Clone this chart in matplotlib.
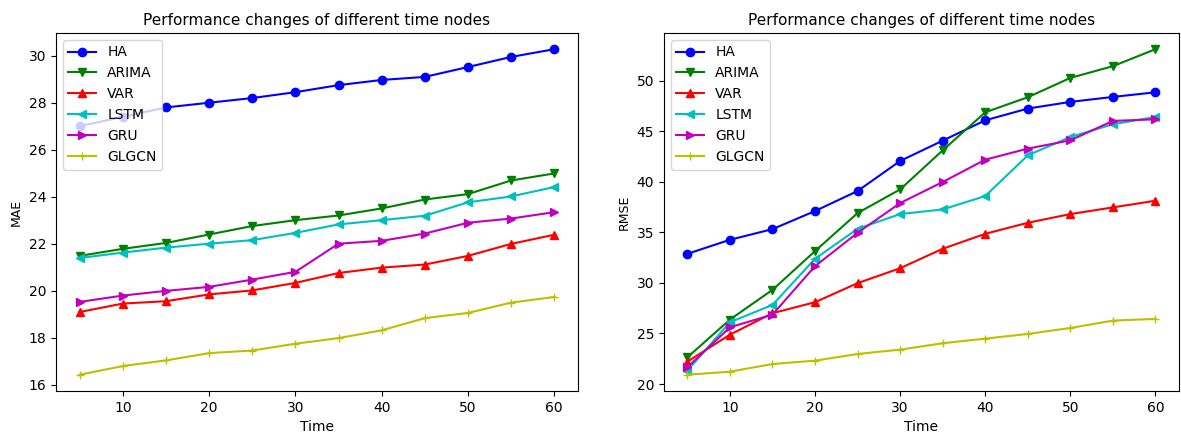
import matplotlib
matplotlib.use("Agg")
import matplotlib.pyplot as plt

time = [5, 10, 15, 20, 25, 30, 35, 40, 45, 50, 55, 60]
models = ["HA", "ARIMA", "VAR", "LSTM", "GRU", "GLGCN"]

mae_ha = [27.0, 27.4, 27.8, 28.0, 28.2, 28.45, 28.75, 28.97, 29.1, 29.52, 29.95, 30.28]
mae_arima = [21.48, 21.78, 22.03, 22.39, 22.75, 23.0, 23.2, 23.5, 23.88, 24.11, 24.69, 24.99]
mae_var = [19.09, 19.45, 19.55, 19.84, 20.01, 20.33, 20.75, 20.98, 21.11, 21.48, 21.99, 22.38]
mae_lstm = [21.39, 21.62, 21.83, 22.0, 22.15, 22.46, 22.82, 23.0, 23.19, 23.76, 24.01, 24.41]
mae_gru = [19.52, 19.79, 19.99, 20.16, 20.47, 20.8, 22.0, 22.12, 22.43, 22.89, 23.07, 23.34]
mae_glgcn = [16.42, 16.79, 17.03, 17.34, 17.45, 17.74, 17.98, 18.31, 18.83, 19.05, 19.49, 19.73]

rmse_ha = [32.87, 34.26, 35.31, 37.1, 39.08, 42.05, 44.06, 46.07, 47.23, 47.89, 48.38, 48.84]
rmse_arima = [22.64, 26.37, 29.31, 33.14, 36.9, 39.24, 43.1, 46.86, 48.35, 50.26, 51.42, 53.1]
rmse_var = [22.21, 24.88, 27.0, 28.09, 29.97, 31.45, 33.37, 34.85, 35.94, 36.8, 37.46, 38.12]
rmse_lstm = [21.32, 26.11, 27.82, 32.38, 35.35, 36.8, 37.26, 38.58, 42.61, 44.42, 45.68, 46.4]
rmse_gru = [21.65, 25.61, 26.86, 31.65, 34.95, 37.89, 39.97, 42.18, 43.27, 44.09, 46.01, 46.17]
rmse_glgcn = [20.92, 21.22, 21.98, 22.31, 22.97, 23.4, 24.03, 24.49, 24.95, 25.54, 26.27, 26.44]

styles = [("b", "o"), ("g", "v"), ("r", "^"), ("c", "<"), ("m", ">"), ("y", "+")]

fig = plt.figure(figsize=(11.81, 4.33), dpi=100)
ax1 = fig.add_axes([0.0474, 0.097, 0.442, 0.827])
ax2 = fig.add_axes([0.5622, 0.097, 0.436, 0.827])

panels = [
    (ax1, [mae_ha, mae_arima, mae_var, mae_lstm, mae_gru, mae_glgcn], "MAE"),
    (ax2, [rmse_ha, rmse_arima, rmse_var, rmse_lstm, rmse_gru, rmse_glgcn], "RMSE"),
]

for ax, series, ylabel in panels:
    for name, vals, (c, m) in zip(models, series, styles):
        ax.plot(time, vals, color=c, marker=m, label=name)
    ax.set_title("Performance changes of different time nodes", fontsize=11)
    ax.set_xlabel("Time", fontsize=10)
    ax.set_ylabel(ylabel, fontsize=9)
    ax.tick_params(labelsize=10)
    ax.legend(loc="upper left", fontsize=10)

fig.savefig("out.png", dpi=100)
